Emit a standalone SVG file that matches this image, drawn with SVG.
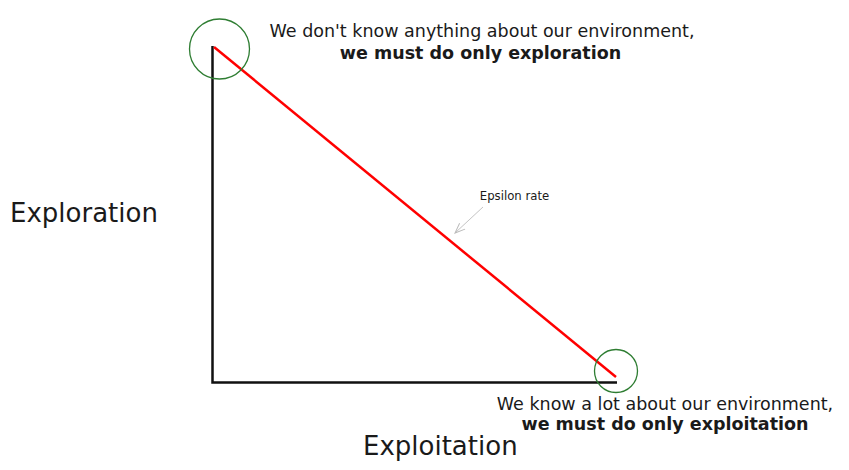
<svg xmlns="http://www.w3.org/2000/svg" width="849" height="470" viewBox="0 0 849 470">
<style>
text{font-family:"DejaVu Sans",Verdana,sans-serif;fill:#1a1a1a}
.lbl{font-size:17.5px}
.b{font-weight:bold}
.ax{font-size:26px}
.hl{fill:none;stroke:#2e7d32;stroke-width:1.3}
</style>
<defs>
<marker id="ah" markerWidth="12" markerHeight="10" refX="11" refY="5" orient="auto" markerUnits="userSpaceOnUse">
<path d="M1,1 L11,5 L1,9" fill="none" stroke="#bbbbbb" stroke-width="1"/>
</marker>
</defs>
<rect width="849" height="470" fill="#ffffff"/>
<g id="connectors">
<path d="M212.5,46 V382.5 H617" fill="none" stroke="#111111" stroke-width="2.5"/>
<line x1="214" y1="47" x2="616" y2="377" stroke="#ff0000" stroke-width="2.5"/>
<line x1="483" y1="207" x2="455" y2="233" stroke="#c4c4c4" stroke-width="1" marker-end="url(#ah)"/>
</g>
<g id="start">
<circle class="hl" cx="219.5" cy="49" r="30"/>
<text class="lbl" x="482" y="37" text-anchor="middle">We don't know anything about our environment,</text>
<text class="lbl b" x="480.5" y="59" text-anchor="middle">we must do only exploration</text>
</g>
<g id="end">
<circle class="hl" cx="616" cy="371" r="21.5"/>
<text class="lbl" x="665" y="410" text-anchor="middle">We know a lot about our environment,</text>
<text class="lbl b" x="665" y="430" text-anchor="middle">we must do only exploitation</text>
</g>
<g id="epsilon">
<text x="514.5" y="200" text-anchor="middle" font-size="11.7">Epsilon rate</text>
</g>
<g id="y-axis-label"><text class="ax" x="10" y="222">Exploration</text></g>
<g id="x-axis-label"><text class="ax" x="363" y="455">Exploitation</text></g>
</svg>
